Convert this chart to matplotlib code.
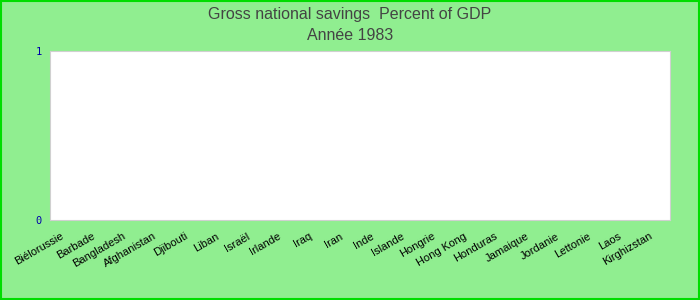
import matplotlib.pyplot as plt
import numpy as np

# Data (no values reported for 1983)
countries = ['Biélorussie', 'Barbade', 'Bangladesh', 'Afghanistan', 'Djibouti',
             'Liban', 'Israël', 'Irlande', 'Iraq', 'Iran', 'Inde', 'Islande',
             'Hongrie', 'Hong Kong', 'Honduras', 'Jamaique', 'Jordanie',
             'Lettonie', 'Laos', 'Kirghizstan']
savings = [np.nan] * len(countries)
yticks = [0, 1]

plt.rcParams['font.family'] = ['Liberation Sans', 'DejaVu Sans']

fig = plt.figure(figsize=(7, 3), dpi=100, facecolor='#90ee90')
ax = fig.add_axes([50/700, 1 - 220/300, 620/700, 169/300])
ax.set_facecolor('white')

x = np.arange(len(countries))
ax.bar(x, savings, width=0.6, color='#4472c4')
ax.set_xlim(-0.5, len(countries) - 0.5)
ax.set_ylim(0, 1)

ax.set_yticks(yticks)
ax.set_yticklabels([str(v) for v in yticks], color='#0000aa', fontsize=7.5,
                   family='DejaVu Sans Mono')
ax.set_xticks(x)
ax.set_xticklabels(countries, rotation=30, ha='right', va='top', fontsize=8)
ax.tick_params(axis='y', length=0, pad=6)
ax.tick_params(axis='x', length=0, pad=8)

for s in ax.spines.values():
    s.set_color('#d0d0d0')

fig.text(0.5, 1 - 14/300, 'Gross national savings  Percent of GDP',
         ha='center', va='center', fontsize=11.5, color='#444444')
fig.text(0.5, 1 - 36/300, 'Année 1983',
         ha='center', va='center', fontsize=11.5, color='#444444')

# outer green frame
fig.patches.append(plt.Rectangle((0.001, 0.002), 0.997, 0.995, transform=fig.transFigure,
                                 fill=False, edgecolor='#00dd00', linewidth=1.5))

fig.savefig('out.png', dpi=100, facecolor=fig.get_facecolor())
